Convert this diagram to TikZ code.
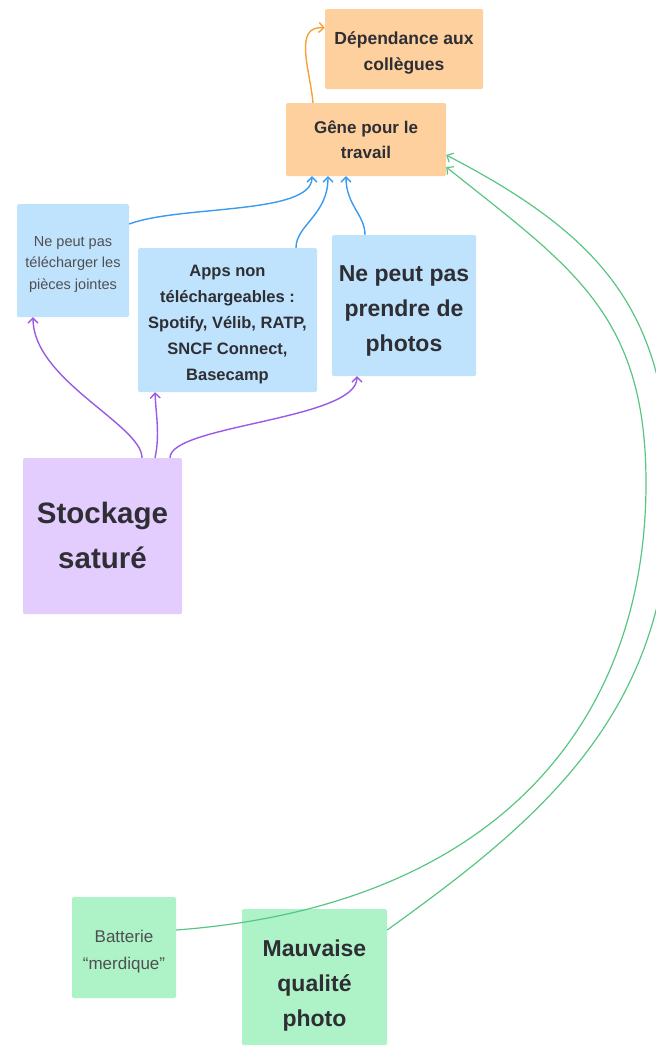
\documentclass[tikz,border=0pt]{standalone}
\usepackage{fontspec}
\setmainfont{Liberation Sans}
\usetikzlibrary{arrows.meta,calc}
\definecolor{orfill}{HTML}{FDD09E}
\definecolor{blfill}{HTML}{BFE3FC}
\definecolor{pufill}{HTML}{E3CDFE}
\definecolor{grfill}{HTML}{ADF3C7}
\definecolor{txtdark}{HTML}{2E2E34}
\definecolor{txtgray}{HTML}{4F4F52}
\definecolor{orline}{HTML}{F7A035}
\definecolor{blline}{HTML}{3B9AF0}
\definecolor{puline}{HTML}{9B59E8}
\definecolor{grline}{HTML}{59C583}
\newcommand\lowtext[2]{\raisebox{-#1}[\height][\depth]{\begin{tabular}{@{}c@{}}#2\end{tabular}}}
\begin{document}
\begin{tikzpicture}[x=1pt,y=-1pt,
  box/.style={rounded corners=1.5pt, inner sep=0pt, align=center, text=txtdark},
  arr/.style={-{Straight Barb[length=5pt,width=10pt]}, line width=1.4pt},
  garr/.style={-{Straight Barb[length=5pt,width=10pt]}, line width=1.2pt, draw=grline}]
\useasboundingbox (0,0) rectangle (656,1047);

\node[box, fill=orfill, minimum width=158pt, minimum height=80pt, font=\fontsize{17.5}{26}\selectfont\bfseries] (dep) at (404,49) {\lowtext{3pt}{Dépendance aux\\collègues}};
\node[box, fill=orfill, minimum width=160pt, minimum height=73pt, font=\fontsize{17}{25}\selectfont\bfseries] (gene) at (366,139.5) {\lowtext{1pt}{Gêne pour le\\travail}};
\node[box, fill=blfill, minimum width=112pt, minimum height=113pt, text=txtgray, font=\fontsize{14.5}{21.5}\selectfont] (nt) at (73,260.5) {\lowtext{3pt}{Ne peut pas\\télécharger les\\pièces jointes}};
\node[box, fill=blfill, minimum width=179pt, minimum height=144pt, font=\fontsize{16.5}{26}\selectfont\bfseries] (apps) at (227.5,320) {\lowtext{3pt}{Apps non\\téléchargeables :\\Spotify, Vélib, RATP,\\SNCF Connect,\\Basecamp}};
\node[box, fill=blfill, minimum width=144pt, minimum height=141pt, font=\fontsize{23}{35}\selectfont\bfseries] (photo) at (404,305.5) {\lowtext{4pt}{Ne peut pas\\prendre de\\photos}};
\node[box, fill=pufill, minimum width=159pt, minimum height=156pt, font=\fontsize{29.5}{45}\selectfont\bfseries] (stock) at (102.5,536) {\lowtext{1pt}{Stockage\\saturé}};
\node[box, fill=grfill, minimum width=104pt, minimum height=101pt, text=txtgray, font=\fontsize{17}{27}\selectfont] (bat) at (124,947.5) {\lowtext{3pt}{Batterie\\“merdique”}};
\node[box, fill=grfill, minimum width=145pt, minimum height=136pt, font=\fontsize{23}{35}\selectfont\bfseries] (mauv) at (314.5,977) {\lowtext{7pt}{Mauvaise\\qualité\\photo}};

% orange
\draw[arr, draw=orline] ($(gene.north)+(-53,0)$) .. controls (310,70) and (293,25) .. ($(dep.west)+(0,-21)$);

% blue
\draw[arr, draw=blline] ($(nt.east)+(0,-36.5)$) .. controls (180,205) and (312,215) .. ($(gene.south)+(-54,0)$);
\draw[arr, draw=blline] ($(apps.north)+(68.5,0)$) .. controls (296,225) and (328,215) .. ($(gene.south)+(-38,0)$);
\draw[arr, draw=blline] ($(photo.north)+(-39,0)$) .. controls (365,215) and (346,205) .. ($(gene.south)+(-20,0)$);

% purple
\draw[arr, draw=puline] ($(stock.north)+(39.5,0)$) .. controls (142,425) and (33,380) .. ($(nt.south)+(-40,0)$);
\draw[arr, draw=puline] ($(stock.north)+(52.5,0)$) .. controls (160,435) and (156,415) .. ($(apps.south)+(-72.5,0)$);
\draw[arr, draw=puline] ($(stock.north)+(67.5,0)$) .. controls (170,425) and (357,420) .. ($(photo.south)+(-47,0)$);

% green
\coordinate (gin) at (646,483);
\coordinate (gout) at (670,495);
\draw[garr] ($(bat.east)+(0,-17.5)$) .. controls (496,906) and (646,723) .. (gin)
   .. controls (646,313) and (571,267) .. ($(gene.east)+(0,27.5)$);
\draw[garr] ($(mauv.east)+(0,-47)$) .. controls (537,822) and (670,715) .. (gout)
   .. controls (670,315) and (606,238) .. ($(gene.east)+(0,15.5)$);
\end{tikzpicture}
\end{document}
